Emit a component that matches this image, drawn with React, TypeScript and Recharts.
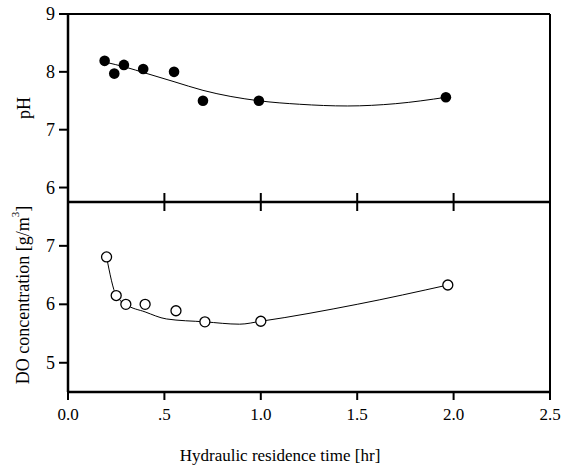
import React from 'react';
import { ComposedChart, Line, Scatter, XAxis, YAxis, ReferenceLine } from 'recharts';

// pH panel (filled dots) + fitted curve
const phTimes = [0.19, 0.24, 0.29, 0.39, 0.55, 0.7, 0.99, 1.96];
const phValues = [8.19, 7.97, 8.12, 8.05, 8.0, 7.5, 7.5, 7.56];
const phFitTimes = [0.19, 0.3, 0.4, 0.55, 0.7, 0.99, 1.2, 1.45, 1.7, 1.96];
const phFitValues = [8.17, 8.08, 7.98, 7.83, 7.68, 7.5, 7.44, 7.41, 7.45, 7.56];

// DO panel (open dots) + fitted curve
const doTimes = [0.2, 0.25, 0.3, 0.4, 0.56, 0.71, 1.0, 1.97];
const doValues = [6.81, 6.15, 6.0, 6.0, 5.89, 5.7, 5.71, 6.33];
const doFitTimes = [0.2, 0.25, 0.3, 0.4, 0.51, 0.71, 0.89, 1.0, 1.5, 1.97];
const doFitValues = [6.81, 6.15, 6.0, 5.87, 5.75, 5.7, 5.66, 5.71, 6.0, 6.33];

const xTicks = [0, 0.5, 1.0, 1.5, 2.0, 2.5];
const xTickLabels = ['0.0', '.5', '1.0', '1.5', '2.0', '2.5'];
const midTicks = [0.5, 1.0, 1.5, 2.0];
const phTicks = [6, 7, 8, 9];
const doTicks = [5, 6, 7];
const phDomain = [5.75, 9];
const doDomain = [4.5, 7.75];

const FONT = '"Liberation Serif", "DejaVu Serif", serif';
const INK = '#000';

const zip = (ts: number[], vs: number[]) => ts.map((t, i) => ({ t, v: vs[i] }));

const phPoints = zip(phTimes, phValues);
const phFit = zip(phFitTimes, phFitValues);
const doPoints = zip(doTimes, doValues);
const doFit = zip(doFitTimes, doFitValues);

const FilledDot = (p: any) => <circle cx={p.cx} cy={p.cy} r={5.3} fill={INK} />;
const OpenDot = (p: any) => (
  <circle cx={p.cx} cy={p.cy} r={5} fill="#fff" stroke={INK} strokeWidth={1.3} />
);

// y ticks: outward mark + label
const YTick = (p: any) => (
  <g>
    <line x1={p.x - 9} x2={p.x} y1={p.y} y2={p.y} stroke={INK} strokeWidth={2} />
    <text x={p.x - 13} y={p.y} textAnchor="end" dominantBaseline="central"
      fontSize={18} fontFamily={FONT} fill={INK}>{p.payload.value}</text>
  </g>
);

// bottom x ticks with labels
const XTick = (p: any) => {
  const i = xTicks.indexOf(p.payload.value);
  return (
    <g>
      <line x1={p.x} x2={p.x} y1={p.y} y2={p.y + 8} stroke={INK} strokeWidth={2} />
      <text x={p.x} y={p.y + 22} textAnchor="middle" dominantBaseline="central"
        fontSize={17} fontFamily={FONT} fill={INK}>{i >= 0 ? xTickLabels[i] : p.payload.value}</text>
    </g>
  );
};

// ticks crossing the shared middle line
const MidTick = (p: any) => (
  <line x1={p.x} x2={p.x} y1={p.y - 9} y2={p.y + 9} stroke={INK} strokeWidth={2} />
);

const PhLabel = (p: any) => {
  const vb = p.viewBox || {};
  const cy = (vb.y ?? 14) + (vb.height ?? 188) / 2;
  return (
    <text x={24} y={cy} transform={`rotate(-90, 24, ${cy})`} textAnchor="middle"
      dominantBaseline="central" fontSize={18} fontFamily={FONT} fill={INK}>
      pH
    </text>
  );
};

const DoLabel = (p: any) => {
  const vb = p.viewBox || {};
  const cy = (vb.y ?? 22) + (vb.height ?? 190) / 2 - 2;
  return (
    <text x={23} y={cy} transform={`rotate(-90, 23, ${cy})`} textAnchor="middle"
      dominantBaseline="central" fontSize={18} fontFamily={FONT} fill={INK}>
      DO concentration [g/m
      <tspan fontSize={11} dy={-8}>3</tspan>
      <tspan dy={8}>]</tspan>
    </text>
  );
};

const TimeLabel = () => (
  <text x={280} y={455} textAnchor="middle" dominantBaseline="central"
    fontSize={17} fontFamily={FONT} fill={INK}>
    Hydraulic  residence  time [hr]
  </text>
);

export default function App() {
  return (
    <div style={{ position: 'absolute', left: 0, top: 0, width: 564, height: 467, background: '#fff', fontFamily: FONT }}>
      <div style={{ position: 'absolute', left: 0, top: 0 }}>
        <ComposedChart width={564} height={214} margin={{ top: 14, right: 14, bottom: 2, left: 0 }}>
          <XAxis dataKey="t" type="number" domain={[0, 2.5]} ticks={midTicks}
            allowDataOverflow height={10} tick={<MidTick />} tickSize={0} tickMargin={0} tickLine={false}
            stroke={INK} strokeWidth={2.5} />
          <YAxis type="number" domain={phDomain} ticks={phTicks} allowDataOverflow
            width={68} tick={<YTick />} tickSize={0} tickMargin={0} tickLine={false}
            stroke={INK} strokeWidth={2.5} label={<PhLabel />} />
          <ReferenceLine y={9} stroke={INK} strokeWidth={2} ifOverflow="visible" />
          <ReferenceLine x={2.5} stroke={INK} strokeWidth={2} ifOverflow="visible" />
          <Line data={phFit} dataKey="v" type="monotone" stroke={INK} strokeWidth={1}
            dot={false} activeDot={false} isAnimationActive={false} />
          <Scatter data={phPoints} dataKey="v" shape={FilledDot} isAnimationActive={false} />
        </ComposedChart>
      </div>
      <div style={{ position: 'absolute', left: 0, top: 180 }}>
        <ComposedChart width={564} height={287} margin={{ top: 22, right: 14, bottom: 10, left: 0 }}>
          <XAxis dataKey="t" type="number" domain={[0, 2.5]} ticks={xTicks}
            allowDataOverflow height={65} tick={<XTick />} tickSize={0} tickMargin={0} tickLine={false}
            stroke={INK} strokeWidth={2.5} />
          <YAxis type="number" domain={doDomain} ticks={doTicks} allowDataOverflow
            width={68} tick={<YTick />} tickSize={0} tickMargin={0} tickLine={false}
            stroke={INK} strokeWidth={2.5} label={<DoLabel />} />
          <ReferenceLine x={2.5} stroke={INK} strokeWidth={2} ifOverflow="visible" />
          <Line data={doFit} dataKey="v" type="monotone" stroke={INK} strokeWidth={1}
            dot={false} activeDot={false} isAnimationActive={false} />
          <Scatter data={doPoints} dataKey="v" shape={OpenDot} isAnimationActive={false} />
        </ComposedChart>
      </div>
      <svg width={564} height={467} style={{ position: 'absolute', left: 0, top: 0, pointerEvents: 'none' }}>
        <TimeLabel />
      </svg>
    </div>
  );
}
